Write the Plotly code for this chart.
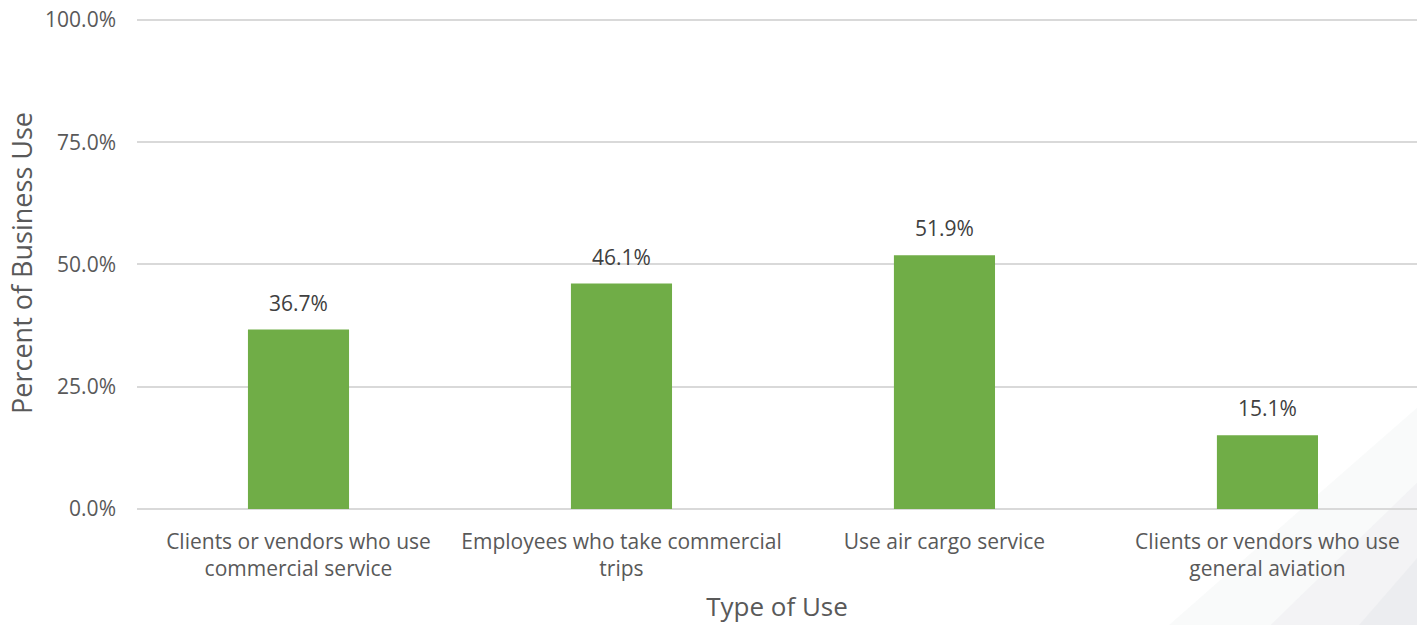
import plotly.graph_objects as go

categories = ["Clients or vendors who use<br>commercial service",
              "Employees who take commercial<br>trips",
              "Use air cargo service",
              "Clients or vendors who use<br>general aviation"]
values = [0.367, 0.461, 0.519, 0.151]
tick_vals = [0, 0.25, 0.5, 0.75, 1.0]

FONT = "Open Sans, Segoe UI, sans-serif"
xs = list(range(len(categories)))

fig = go.Figure()
fig.add_trace(go.Bar(
    x=xs, y=values, width=0.313,
    marker=dict(color="#70ad47", line=dict(width=0)),
))

for x, v in zip(xs, values):
    fig.add_annotation(x=x, y=v, text=f"{v*100:.1f}%", showarrow=False,
                       yanchor="bottom", yshift=11,
                       font=dict(size=21, color="#404040", family=FONT))

# faint decorative gradient in bottom-right corner
for path, col in [
    ("M 1.05 -0.25 L 1.05 0.32 L 0.80 -0.25 Z", "rgba(235,237,240,0.3)"),
    ("M 1.05 -0.25 L 1.05 0.18 L 0.88 -0.25 Z", "rgba(228,230,235,0.3)"),
    ("M 1.05 -0.25 L 1.05 0.05 L 0.95 -0.25 Z", "rgba(222,225,230,0.3)"),
]:
    fig.add_shape(type="path", xref="paper", yref="paper", layer="below",
                  path=path, fillcolor=col, line=dict(width=0))

fig.update_layout(
    width=1417, height=625,
    margin=dict(l=137, r=0, t=17, b=116),
    paper_bgcolor="white", plot_bgcolor="rgba(0,0,0,0)",
    font=dict(family=FONT, color="#595959", size=21),
    showlegend=False,
    xaxis=dict(range=[-0.5, 3.463], tickmode="array",
               tickvals=xs, ticktext=categories,
               showgrid=False, zeroline=False, showline=False, ticks="",
               ticklabelstandoff=18,
               tickfont=dict(size=21, color="#595959"),
               title=dict(text="Type of Use", font=dict(size=26, color="#595959"), standoff=16)),
    yaxis=dict(range=[0, 1.006], tickvals=tick_vals, tickformat=".1%",
               showgrid=True, gridcolor="#d9d9d9", gridwidth=1.5,
               zeroline=True, zerolinecolor="#d9d9d9", zerolinewidth=1.5,
               showline=False, ticks="", ticklabelstandoff=20,
               tickfont=dict(size=21, color="#595959"),
               title=dict(text="Percent of Business Use", font=dict(size=27, color="#595959"), standoff=4)),
)

fig.write_html("out.html", config={"displayModeBar": False})

# remove default body margin so the figure sits at the window's top-left corner
with open("out.html", encoding="utf-8") as f:
    html = f.read()
html = html.replace("<body>", '<body style="margin:0;overflow:hidden">', 1)
with open("out.html", "w", encoding="utf-8") as f:
    f.write(html)
